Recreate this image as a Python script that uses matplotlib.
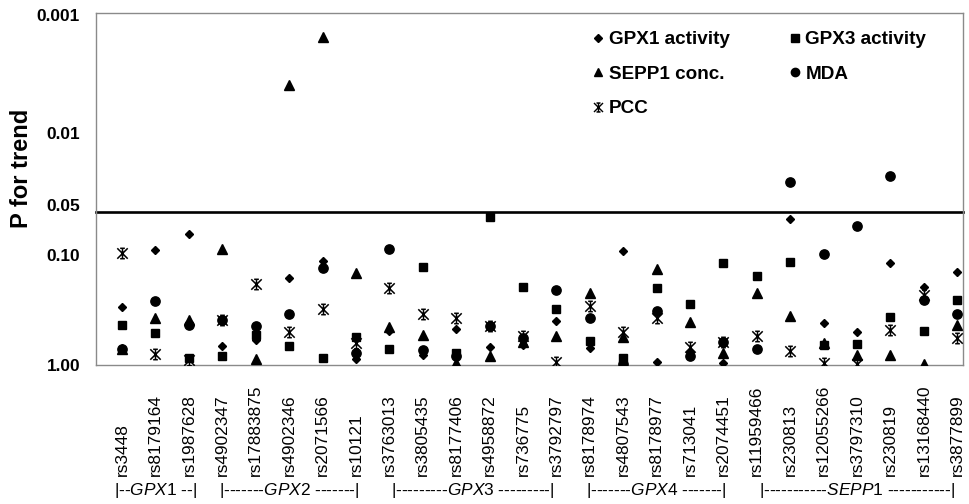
import matplotlib
matplotlib.use('Agg')
import matplotlib.pyplot as plt
from matplotlib.path import Path
from matplotlib.lines import Line2D
import matplotlib.transforms as mtransforms
import numpy as np

plt.rcParams['font.family'] = ['Liberation Sans', 'DejaVu Sans']
plt.rcParams['mathtext.fontset'] = 'custom'
plt.rcParams['mathtext.rm'] = 'Liberation Sans'
plt.rcParams['mathtext.it'] = 'Liberation Sans:italic'

# ---------------- data ----------------
snps = ['rs3448', 'rs8179164', 'rs1987628',
        'rs4902347', 'rs17883875', 'rs4902346', 'rs2071566', 'rs10121',
        'rs3763013', 'rs3805435', 'rs8177406', 'rs4958872', 'rs736775', 'rs3792797',
        'rs8178974', 'rs4807543', 'rs8178977', 'rs713041', 'rs2074451',
        'rs11959466', 'rs230813', 'rs12055266', 'rs3797310', 'rs230819', 'rs13168440', 'rs3877899']

gpx1_activity = [0.320, 0.105, 0.0764, 0.689, 0.612, 0.181, 0.130, 0.889, 0.513, 0.822,
                 0.493, 0.703, 0.675, 0.421, 0.716, 0.107, 0.943, 0.775, 0.962, 0.730,
                 0.0569, 0.438, 0.523, 0.135, 0.216, 0.161]
gpx3_activity = [0.456, 0.534, 0.871, 0.838, 0.555, 0.689, 0.871, 0.577, 0.730, 0.146,
                 0.790, 0.0547, 0.216, 0.333, 0.624, 0.871, 0.221, 0.302, 0.135, 0.174,
                 0.132, 0.675, 0.662, 0.390, 0.513, 0.279]
sepp1_conc = [0.730, 0.397, 0.413, 0.103, 0.889, 0.00410, 0.00160, 0.164, 0.474, 0.555,
              0.962, 0.838, 0.637, 0.566, 0.243, 0.577, 0.152, 0.430, 0.790, 0.243,
              0.382, 0.649, 0.822, 0.822, 0.990, 0.456]
mda = [0.730, 0.285, 0.456, 0.413, 0.465, 0.367, 0.149, 0.790, 0.103, 0.745,
       0.838, 0.465, 0.589, 0.230, 0.397, 0.981, 0.346, 0.838, 0.637, 0.730,
       0.0275, 0.113, 0.0653, 0.0245, 0.279, 0.367]
pcc = [0.111, 0.805, 0.906, 0.413, 0.204, 0.523, 0.333, 0.649, 0.221, 0.367,
       0.397, 0.465, 0.566, 0.943, 0.314, 0.523, 0.397, 0.703, 0.637, 0.566,
       0.760, 0.962, 0.981, 0.503, 0.253, 0.589]

genes = ['GPX1', 'GPX2', 'GPX3', 'GPX4', 'SEPP1']
gene_counts = [3, 5, 6, 5, 7]
gene_dashes = [2, 7, 9, 7, 11]

yticks = [0.001, 0.01, 0.05, 0.1, 1.0]
ytick_labels = ['0.001', '0.01', '0.05', '0.10', '1.00']
threshold = 0.05

# ---------------- figure ----------------
fig = plt.figure(figsize=(9.7, 5.04), dpi=100)
W, H = 970, 504
ax_left, ax_right, ax_top, ax_bot = 96, 963, 13, 365
ax = fig.add_axes([ax_left / W, 1 - ax_bot / H, (ax_right - ax_left) / W, (ax_bot - ax_top) / H])

x = np.arange(len(snps))

star_path = Path([(-1, -1), (1, 1), (-1, 1), (1, -1), (0, -1), (0, 1),
                  (-0.45, 1), (0.45, 1), (-0.45, -1), (0.45, -1)],
                 [Path.MOVETO, Path.LINETO] * 5)

styles = {
    'GPX1 activity': dict(marker='D', ms=4.5),
    'GPX3 activity': dict(marker='s', ms=6.4),
    'SEPP1 conc.': dict(marker='^', ms=6.8),
    'MDA': dict(marker='o', ms=6.7),
}
series = [('GPX1 activity', gpx1_activity), ('GPX3 activity', gpx3_activity),
          ('SEPP1 conc.', sepp1_conc), ('MDA', mda)]
for name, vals in series:
    st = styles[name]
    ax.plot(x, vals, linestyle='None', marker=st['marker'], ms=st['ms'],
            color='black', mec='black', zorder=3)
ax.plot(x, pcc, linestyle='None', marker=star_path, ms=7.5, color='black',
        mfc='none', mec='black', mew=1.1, zorder=3)

ax.set_yscale('log')
ax.set_ylim(1.0, 0.001)
ax.set_xlim(-0.78, len(snps) - 1 + 0.17)
ax.yaxis.set_minor_locator(matplotlib.ticker.NullLocator())
ax.set_yticks(yticks)
ax.set_yticklabels(ytick_labels, fontsize=12.4, fontweight='bold')
ax.tick_params(axis='y', length=0, pad=11.5)

ax.axhline(threshold, color='black', lw=1.9, zorder=2, clip_on=False)

for sp in ax.spines.values():
    sp.set_color('#8a8a8a')
    sp.set_linewidth(1.0)

ax.set_xticks(x)
ax.set_xticklabels(snps, rotation=90, fontsize=12.4)
for lab in ax.get_xticklabels():
    lab.set_va('bottom')
    lab.set_ha('center')
ax.tick_params(axis='x', length=0, pad=(476 - ax_bot) * 0.72)

# small vertical offsets of the y tick labels as placed in the original (pixels, + = down)
label_dy = [2, 3, -7, 7, 0]
for tick, dy in zip(ax.yaxis.get_major_ticks(), label_dy):
    tick.label1.set_transform(tick.label1.get_transform() +
                              mtransforms.ScaledTranslation(0, -dy / 100, fig.dpi_scale_trans))

ax.set_ylabel('P for trend', fontsize=17, fontweight='bold')
ax.yaxis.label.set_va('center')
ax.yaxis.set_label_coords((22 - ax_left) / (ax_right - ax_left), (ax_bot - 168) / (ax_bot - ax_top))

# gene group labels
trans = mtransforms.blended_transform_factory(ax.transData, ax.transAxes)
start = 0
for g, n, d in zip(genes, gene_counts, gene_dashes):
    center = start + (n - 1) / 2
    txt = '|' + '-' * d + r'$\mathit{' + g + '}$' + ' ' + '-' * d + '|'
    ax.text(center, (ax_bot - 490) / (ax_bot - ax_top), txt, transform=trans,
            ha='center', va='center', fontsize=12.4, clip_on=False)
    start += n

# legend
def h(marker, ms, **kw):
    return Line2D([], [], linestyle='None', marker=marker, ms=ms, color='black', mec='black', **kw)

handles = [h('D', 4.0), h('^', 6.0), h(star_path, 6.5, mfc='none', mew=1.0),
           h('s', 5.6), h('o', 6.0)]
labels = ['GPX1 activity', 'SEPP1 conc.', 'PCC', 'GPX3 activity', 'MDA']
leg = ax.legend(handles, labels, ncol=2, frameon=False, loc='upper left',
                bbox_to_anchor=(593 / W, 1 - 31 / H), bbox_transform=fig.transFigure,
                prop=dict(size=13.6, weight='bold'), handlelength=0.55,
                handletextpad=0.3, columnspacing=3.15, labelspacing=0.92,
                borderpad=0, borderaxespad=0)

fig.savefig('out.png', dpi=100)
